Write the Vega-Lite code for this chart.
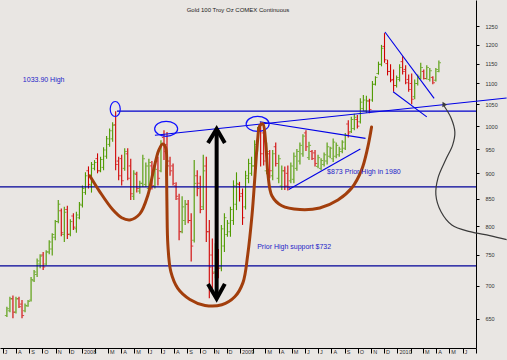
{
  "$schema": "https://vega.github.io/schema/vega-lite/v6.json",
  "width": 476,
  "height": 348,
  "autosize": {"type": "none"},
  "padding": {"left": 0, "top": 0, "right": 31, "bottom": 12},
  "background": "#E9E6E3",
  "config": {"view": {"stroke": null}, "font": "Liberation Sans"},
  "title": {"text": "Gold 100 Troy Oz COMEX Continuous", "fontSize": 6, "fontWeight": "normal", "font": "Liberation Sans", "color": "#222222", "anchor": "middle", "frame": "group", "offset": -13},
  "datasets": {
    "bars": [
      {"d":"2007-07-11","o":655,"h":668,"l":653,"c":665},
      {"d":"2007-07-18","o":662,"h":683,"l":660,"c":680},
      {"d":"2007-07-25","o":680,"h":685,"l":651,"c":660},
      {"d":"2007-08-01","o":660,"h":683,"l":658,"c":680},
      {"d":"2007-08-08","o":680,"h":683,"l":666,"c":668},
      {"d":"2007-08-15","o":672,"h":678,"l":651,"c":655},
      {"d":"2007-08-22","o":662,"h":673,"l":660,"c":670},
      {"d":"2007-08-29","o":669,"h":678,"l":668,"c":676},
      {"d":"2007-09-05","o":678,"h":714,"l":676,"c":710},
      {"d":"2007-09-12","o":708,"h":725,"l":706,"c":722},
      {"d":"2007-09-19","o":718,"h":744,"l":714,"c":740},
      {"d":"2007-09-26","o":735,"h":751,"l":728,"c":748},
      {"d":"2007-10-03","o":750,"h":755,"l":725,"c":730},
      {"d":"2007-10-10","o":735,"h":758,"l":733,"c":755},
      {"d":"2007-10-17","o":755,"h":775,"l":751,"c":772},
      {"d":"2007-10-24","o":760,"h":787,"l":749,"c":785},
      {"d":"2007-10-31","o":780,"h":811,"l":775,"c":808},
      {"d":"2007-11-07","o":808,"h":848,"l":805,"c":840},
      {"d":"2007-11-14","o":828,"h":832,"l":782,"c":788},
      {"d":"2007-11-21","o":785,"h":835,"l":772,"c":825},
      {"d":"2007-11-28","o":830,"h":837,"l":777,"c":785},
      {"d":"2007-12-05","o":786,"h":812,"l":782,"c":808},
      {"d":"2007-12-12","o":818,"h":823,"l":793,"c":798},
      {"d":"2007-12-19","o":795,"h":826,"l":788,"c":820},
      {"d":"2007-12-26","o":815,"h":844,"l":812,"c":840},
      {"d":"2008-01-02","o":838,"h":876,"l":834,"c":870},
      {"d":"2008-01-09","o":862,"h":902,"l":858,"c":895},
      {"d":"2008-01-16","o":905,"h":914,"l":870,"c":878},
      {"d":"2008-01-23","o":875,"h":923,"l":862,"c":918},
      {"d":"2008-01-30","o":910,"h":927,"l":906,"c":922},
      {"d":"2008-02-06","o":930,"h":941,"l":900,"c":905},
      {"d":"2008-02-13","o":905,"h":934,"l":902,"c":928},
      {"d":"2008-02-20","o":912,"h":954,"l":906,"c":948},
      {"d":"2008-02-27","o":935,"h":978,"l":930,"c":972},
      {"d":"2008-03-05","o":960,"h":995,"l":955,"c":990},
      {"d":"2008-03-12","o":972,"h":1009,"l":966,"c":1002},
      {"d":"2008-03-19","o":1003,"h":1034,"l":906,"c":918},
      {"d":"2008-03-26","o":925,"h":934,"l":886,"c":895},
      {"d":"2008-04-02","o":930,"h":938,"l":876,"c":885},
      {"d":"2008-04-09","o":910,"h":952,"l":905,"c":945},
      {"d":"2008-04-16","o":940,"h":952,"l":886,"c":890},
      {"d":"2008-04-23","o":915,"h":930,"l":848,"c":860},
      {"d":"2008-04-30","o":855,"h":906,"l":848,"c":900},
      {"d":"2008-05-07","o":898,"h":903,"l":862,"c":870},
      {"d":"2008-05-14","o":865,"h":885,"l":860,"c":880},
      {"d":"2008-05-21","o":880,"h":938,"l":873,"c":930},
      {"d":"2008-05-28","o":878,"h":922,"l":873,"c":915},
      {"d":"2008-06-04","o":870,"h":930,"l":862,"c":922},
      {"d":"2008-06-11","o":915,"h":925,"l":868,"c":875},
      {"d":"2008-06-18","o":875,"h":915,"l":870,"c":908},
      {"d":"2008-06-25","o":925,"h":934,"l":876,"c":890},
      {"d":"2008-07-02","o":905,"h":969,"l":902,"c":960},
      {"d":"2008-07-09","o":975,"h":991,"l":927,"c":945},
      {"d":"2008-07-16","o":960,"h":987,"l":902,"c":915},
      {"d":"2008-07-23","o":925,"h":934,"l":895,"c":905},
      {"d":"2008-07-30","o":915,"h":920,"l":876,"c":880},
      {"d":"2008-08-06","o":875,"h":882,"l":848,"c":855},
      {"d":"2008-08-13","o":850,"h":860,"l":775,"c":790},
      {"d":"2008-08-20","o":790,"h":855,"l":787,"c":835},
      {"d":"2008-08-27","o":810,"h":848,"l":802,"c":840},
      {"d":"2008-09-03","o":840,"h":848,"l":805,"c":810},
      {"d":"2008-09-10","o":810,"h":823,"l":739,"c":765},
      {"d":"2008-09-17","o":775,"h":927,"l":771,"c":880},
      {"d":"2008-09-24","o":895,"h":906,"l":855,"c":870},
      {"d":"2008-10-01","o":880,"h":895,"l":823,"c":830},
      {"d":"2008-10-08","o":835,"h":938,"l":829,"c":905},
      {"d":"2008-10-15","o":915,"h":934,"l":772,"c":790},
      {"d":"2008-10-22","o":790,"h":811,"l":681,"c":730},
      {"d":"2008-10-29","o":750,"h":778,"l":695,"c":720},
      {"d":"2008-11-05","o":722,"h":770,"l":712,"c":745},
      {"d":"2008-11-12","o":745,"h":760,"l":712,"c":728},
      {"d":"2008-11-19","o":730,"h":802,"l":723,"c":795},
      {"d":"2008-11-26","o":765,"h":823,"l":755,"c":815},
      {"d":"2008-12-03","o":785,"h":811,"l":781,"c":805},
      {"d":"2008-12-10","o":790,"h":835,"l":781,"c":830},
      {"d":"2008-12-17","o":810,"h":886,"l":802,"c":875},
      {"d":"2008-12-24","o":840,"h":902,"l":829,"c":880},
      {"d":"2008-12-31","o":878,"h":883,"l":845,"c":855},
      {"d":"2009-01-07","o":860,"h":870,"l":802,"c":815},
      {"d":"2009-01-14","o":835,"h":905,"l":830,"c":895},
      {"d":"2009-01-21","o":890,"h":930,"l":880,"c":920},
      {"d":"2009-01-28","o":900,"h":934,"l":895,"c":915},
      {"d":"2009-02-04","o":915,"h":969,"l":910,"c":960},
      {"d":"2009-02-11","o":955,"h":998,"l":945,"c":990},
      {"d":"2009-02-18","o":995,"h":1009,"l":914,"c":940},
      {"d":"2009-02-25","o":985,"h":998,"l":916,"c":925},
      {"d":"2009-03-04","o":905,"h":964,"l":898,"c":945},
      {"d":"2009-03-11","o":940,"h":948,"l":890,"c":905},
      {"d":"2009-03-18","o":895,"h":948,"l":886,"c":940},
      {"d":"2009-03-25","o":955,"h":964,"l":914,"c":920},
      {"d":"2009-04-01","o":890,"h":938,"l":880,"c":930},
      {"d":"2009-04-08","o":875,"h":916,"l":867,"c":905},
      {"d":"2009-04-15","o":905,"h":914,"l":867,"c":875},
      {"d":"2009-04-22","o":900,"h":916,"l":866,"c":872},
      {"d":"2009-04-29","o":885,"h":922,"l":880,"c":915},
      {"d":"2009-05-06","o":888,"h":943,"l":880,"c":935},
      {"d":"2009-05-13","o":910,"h":950,"l":905,"c":945},
      {"d":"2009-05-20","o":925,"h":964,"l":918,"c":958},
      {"d":"2009-05-27","o":940,"h":982,"l":934,"c":978},
      {"d":"2009-06-03","o":985,"h":991,"l":946,"c":955},
      {"d":"2009-06-10","o":932,"h":966,"l":927,"c":958},
      {"d":"2009-06-17","o":945,"h":948,"l":927,"c":930},
      {"d":"2009-06-24","o":942,"h":948,"l":914,"c":920},
      {"d":"2009-07-01","o":914,"h":938,"l":910,"c":932},
      {"d":"2009-07-08","o":910,"h":931,"l":906,"c":926},
      {"d":"2009-07-15","o":918,"h":943,"l":914,"c":938},
      {"d":"2009-07-22","o":925,"h":964,"l":918,"c":955},
      {"d":"2009-07-29","o":935,"h":955,"l":931,"c":952},
      {"d":"2009-08-05","o":930,"h":973,"l":923,"c":965},
      {"d":"2009-08-12","o":935,"h":964,"l":931,"c":958},
      {"d":"2009-08-19","o":938,"h":955,"l":934,"c":950},
      {"d":"2009-08-26","o":945,"h":969,"l":941,"c":965},
      {"d":"2009-09-02","o":952,"h":985,"l":948,"c":980},
      {"d":"2009-09-09","o":1005,"h":1013,"l":975,"c":985},
      {"d":"2009-09-16","o":988,"h":1021,"l":985,"c":1015},
      {"d":"2009-09-23","o":995,"h":1028,"l":991,"c":1020},
      {"d":"2009-09-30","o":1015,"h":1025,"l":995,"c":1000},
      {"d":"2009-10-07","o":1010,"h":1064,"l":1006,"c":1055},
      {"d":"2009-10-14","o":1040,"h":1072,"l":1034,"c":1060},
      {"d":"2009-10-21","o":1035,"h":1070,"l":1030,"c":1058},
      {"d":"2009-10-28","o":1058,"h":1063,"l":1029,"c":1038},
      {"d":"2009-11-04","o":1060,"h":1106,"l":1056,"c":1098},
      {"d":"2009-11-11","o":1098,"h":1118,"l":1095,"c":1115},
      {"d":"2009-11-18","o":1125,"h":1155,"l":1122,"c":1148},
      {"d":"2009-11-25","o":1148,"h":1199,"l":1143,"c":1190},
      {"d":"2009-12-02","o":1195,"h":1231,"l":1152,"c":1160},
      {"d":"2009-12-09","o":1150,"h":1160,"l":1120,"c":1130},
      {"d":"2009-12-16","o":1130,"h":1148,"l":1103,"c":1108},
      {"d":"2009-12-23","o":1110,"h":1135,"l":1080,"c":1095},
      {"d":"2009-12-30","o":1095,"h":1120,"l":1090,"c":1115},
      {"d":"2010-01-06","o":1110,"h":1148,"l":1105,"c":1140},
      {"d":"2010-01-13","o":1155,"h":1169,"l":1122,"c":1130},
      {"d":"2010-01-20","o":1135,"h":1146,"l":1098,"c":1102},
      {"d":"2010-01-27","o":1110,"h":1122,"l":1080,"c":1085},
      {"d":"2010-02-03","o":1100,"h":1125,"l":1050,"c":1062},
      {"d":"2010-02-10","o":1068,"h":1110,"l":1062,"c":1100},
      {"d":"2010-02-17","o":1100,"h":1122,"l":1095,"c":1118},
      {"d":"2010-02-24","o":1112,"h":1152,"l":1110,"c":1140},
      {"d":"2010-03-03","o":1130,"h":1135,"l":1110,"c":1112},
      {"d":"2010-03-10","o":1112,"h":1146,"l":1110,"c":1140},
      {"d":"2010-03-17","o":1110,"h":1139,"l":1105,"c":1132},
      {"d":"2010-03-24","o":1115,"h":1118,"l":1098,"c":1102},
      {"d":"2010-03-31","o":1108,"h":1139,"l":1105,"c":1135},
      {"d":"2010-04-07","o":1130,"h":1158,"l":1128,"c":1152}
    ],
    "trend": [
      {"id":"a","d":"2008-06-18","p":980},{"id":"a","d":"2010-09-11","p":1065},
      {"id":"b","d":"2009-02-16","p":1010},{"id":"b","d":"2009-10-19","p":973},
      {"id":"c","d":"2009-04-24","p":868},{"id":"c","d":"2009-10-07","p":950},
      {"id":"d","d":"2009-12-03","p":1234},{"id":"d","d":"2010-03-27","p":1064},
      {"id":"e","d":"2009-12-22","p":1080},{"id":"e","d":"2010-03-10","p":1021}
    ],
    "brown": [
      {"s":1,"d":"2008-01-19","p":895},{"s":2,"d":"2008-02-11","p":864},{"s":3,"d":"2008-03-12","p":830},
      {"s":4,"d":"2008-04-02","p":815},{"s":5,"d":"2008-04-21","p":811},{"s":6,"d":"2008-05-14","p":822},
      {"s":7,"d":"2008-06-02","p":858},{"s":8,"d":"2008-06-15","p":907},{"s":9,"d":"2008-06-27","p":948},
      {"s":10,"d":"2008-07-06","p":961},{"s":11,"d":"2008-07-13","p":953},{"s":12,"d":"2008-07-15","p":897},
      {"s":13,"d":"2008-07-16","p":830},{"s":14,"d":"2008-07-18","p":767},{"s":15,"d":"2008-07-25","p":722},
      {"s":16,"d":"2008-08-10","p":696},{"s":17,"d":"2008-09-07","p":679},{"s":18,"d":"2008-10-12","p":670},
      {"s":19,"d":"2008-11-20","p":671},{"s":20,"d":"2008-12-20","p":683},{"s":21,"d":"2009-01-08","p":705},
      {"s":22,"d":"2009-01-19","p":750},{"s":23,"d":"2009-01-29","p":820},{"s":24,"d":"2009-02-05","p":897},
      {"s":25,"d":"2009-02-11","p":970},{"s":26,"d":"2009-02-16","p":1001},{"s":27,"d":"2009-02-23","p":1005},
      {"s":28,"d":"2009-03-02","p":959},{"s":29,"d":"2009-03-07","p":897},{"s":30,"d":"2009-03-16","p":856},
      {"s":31,"d":"2009-04-08","p":837},{"s":32,"d":"2009-05-20","p":830},{"s":33,"d":"2009-07-05","p":833},
      {"s":34,"d":"2009-08-16","p":848},{"s":35,"d":"2009-09-17","p":871},{"s":36,"d":"2009-10-10","p":907},
      {"s":37,"d":"2009-10-24","p":953},{"s":38,"d":"2009-11-02","p":998}
    ],
    "chev": [
      {"id":"top","d":"2008-10-19","p":963},{"id":"top","d":"2008-11-08","p":994},{"id":"top","d":"2008-11-27","p":963},
      {"id":"bot","d":"2008-10-19","p":703},{"id":"bot","d":"2008-11-08","p":680},{"id":"bot","d":"2008-11-27","p":703}
    ],
    "gray": [
      {"s":1,"d":"2010-09-11","p":776},{"s":2,"d":"2010-08-03","p":783},{"s":3,"d":"2010-06-18","p":790},
      {"s":4,"d":"2010-05-07","p":802},{"s":5,"d":"2010-04-12","p":826},{"s":6,"d":"2010-03-31","p":858},
      {"s":7,"d":"2010-04-05","p":891},{"s":8,"d":"2010-04-23","p":928},{"s":9,"d":"2010-05-09","p":959},
      {"s":10,"d":"2010-05-14","p":987},{"s":11,"d":"2010-05-05","p":1019},{"s":12,"d":"2010-04-19","p":1046}
    ],
    "notes": [
      {"t":"1033.90 High","d":"2007-08-17","p":1109},
      {"t":"$873  Prior High in 1980","d":"2009-07-22","p":903},
      {"t":"Prior High support $732","d":"2009-02-10","p":764}
    ]
  },
  "layer": [
    {
      "data": {"name": "bars"},
      "mark": {"type": "rule", "strokeWidth": 1.1},
      "encoding": {
        "x": {"field": "d", "type": "temporal", "title": null,
          "scale": {"type": "time", "domain": ["2007-06-25", "2010-07-02"]},
          "axis": {"orient": "bottom", "tickCount": {"interval": "month", "step": 1},
            "labelExpr": "datum.value > datetime(2010,5,20) ? '' : month(datum.value) == 0 ? timeFormat(datum.value, '%Y') : month(datum.value) == 1 ? '' : substring(timeFormat(datum.value, '%b'), 0, 1)",
            "labelAlign": "left", "labelBaseline": "top", "tickSize": 5, "labelPadding": -4, "labelOffset": 1.5,
            "labelFontSize": 5.5, "labelFont": "Liberation Sans", "labelColor": "#333333", "domainColor": "#000000", "tickColor": "#000000",
            "grid": false, "title": null, "labelOverlap": false, "labelFlush": false, "labelBound": false}},
        "y": {"field": "l", "type": "quantitative", "title": null,
          "scale": {"type": "log", "domain": [609.2, 1325.5], "nice": false},
          "axis": {"orient": "right", "values": [650,700,750,800,850,900,950,1000,1050,1100,1150,1200,1250], "format": "d",
            "tickSize": 3, "tickColor": "#000000", "domainColor": "#000000", "labelPadding": 6, "labelFontSize": 5.5,
            "labelFont": "Liberation Sans", "labelColor": "#333333", "grid": false, "title": null, "labelFlush": false, "labelOverlap": false}},
        "y2": {"field": "h"},
        "color": {"condition": {"test": "datum.c >= datum.o", "value": "#4F9A00"}, "value": "#D00000"}
      }
    },
    {
      "data": {"name": "bars"},
      "mark": {"type": "tick", "orient": "horizontal", "size": 1.6, "thickness": 1, "xOffset": -1.3},
      "encoding": {
        "x": {"field": "d", "type": "temporal", "scale": {"type": "time", "domain": ["2007-06-25", "2010-07-02"]}},
        "y": {"field": "o", "type": "quantitative", "scale": {"type": "log", "domain": [609.2, 1325.5], "nice": false}},
        "color": {"condition": {"test": "datum.c >= datum.o", "value": "#4F9A00"}, "value": "#D00000"}
      }
    },
    {
      "data": {"name": "bars"},
      "mark": {"type": "tick", "orient": "horizontal", "size": 1.6, "thickness": 1, "xOffset": 1.3},
      "encoding": {
        "x": {"field": "d", "type": "temporal", "scale": {"type": "time", "domain": ["2007-06-25", "2010-07-02"]}},
        "y": {"field": "c", "type": "quantitative", "scale": {"type": "log", "domain": [609.2, 1325.5], "nice": false}},
        "color": {"condition": {"test": "datum.c >= datum.o", "value": "#4F9A00"}, "value": "#D00000"}
      }
    },
    {
      "data": {"values": [{"p": 873}, {"p": 732}]},
      "mark": {"type": "rule", "color": "#000099", "strokeWidth": 1.3},
      "encoding": {
        "y": {"field": "p", "type": "quantitative", "scale": {"type": "log", "domain": [609.2, 1325.5], "nice": false}}
      }
    },
    {
      "data": {"values": [{"p": 1033.9, "d1": "2008-03-22", "d2": "2010-07-02"}]},
      "mark": {"type": "rule", "color": "#0000CC", "strokeWidth": 1.2},
      "encoding": {
        "x": {"field": "d1", "type": "temporal", "scale": {"type": "time", "domain": ["2007-06-25", "2010-07-02"]}},
        "x2": {"field": "d2"},
        "y": {"field": "p", "type": "quantitative", "scale": {"type": "log", "domain": [609.2, 1325.5], "nice": false}}
      }
    },
    {
      "data": {"name": "trend"},
      "mark": {"type": "line", "color": "#0000E6", "strokeWidth": 1.1},
      "encoding": {
        "x": {"field": "d", "type": "temporal", "scale": {"type": "time", "domain": ["2007-06-25", "2010-07-02"]}},
        "y": {"field": "p", "type": "quantitative", "scale": {"type": "log", "domain": [609.2, 1325.5], "nice": false}},
        "detail": {"field": "id"}
      }
    },
    {
      "data": {"values": [{"d": "2008-07-14", "p": 994}, {"d": "2009-02-11", "p": 1005}]},
      "mark": {"type": "point", "shape": "M -1 0 A 1 0.65 0 1 1 1 0 A 1 0.65 0 1 1 -1 0 Z", "size": 529, "filled": false, "color": "#1010FF", "strokeWidth": 1.2, "opacity": 1},
      "encoding": {
        "x": {"field": "d", "type": "temporal", "scale": {"type": "time", "domain": ["2007-06-25", "2010-07-02"]}},
        "y": {"field": "p", "type": "quantitative", "scale": {"type": "log", "domain": [609.2, 1325.5], "nice": false}}
      }
    },
    {
      "data": {"values": [{"d": "2008-03-18", "p": 1039}]},
      "mark": {"type": "point", "shape": "M 0 -1 A 0.67 1 0 1 1 0 1 A 0.67 1 0 1 1 0 -1 Z", "size": 225, "filled": false, "color": "#1010FF", "strokeWidth": 1.2, "opacity": 1},
      "encoding": {
        "x": {"field": "d", "type": "temporal", "scale": {"type": "time", "domain": ["2007-06-25", "2010-07-02"]}},
        "y": {"field": "p", "type": "quantitative", "scale": {"type": "log", "domain": [609.2, 1325.5], "nice": false}}
      }
    },
    {
      "data": {"name": "brown"},
      "mark": {"type": "line", "color": "#A23E0C", "strokeWidth": 3, "interpolate": "catmull-rom", "strokeCap": "round"},
      "encoding": {
        "x": {"field": "d", "type": "temporal", "scale": {"type": "time", "domain": ["2007-06-25", "2010-07-02"]}},
        "y": {"field": "p", "type": "quantitative", "scale": {"type": "log", "domain": [609.2, 1325.5], "nice": false}},
        "order": {"field": "s", "type": "quantitative"}
      }
    },
    {
      "data": {"values": [{"d": "2008-11-08", "p1": 990, "p2": 683}]},
      "mark": {"type": "rule", "color": "#000000", "strokeWidth": 4},
      "encoding": {
        "x": {"field": "d", "type": "temporal", "scale": {"type": "time", "domain": ["2007-06-25", "2010-07-02"]}},
        "y": {"field": "p1", "type": "quantitative", "scale": {"type": "log", "domain": [609.2, 1325.5], "nice": false}},
        "y2": {"field": "p2"}
      }
    },
    {
      "data": {"name": "chev"},
      "mark": {"type": "line", "color": "#000000", "strokeWidth": 4, "strokeJoin": "miter"},
      "encoding": {
        "x": {"field": "d", "type": "temporal", "scale": {"type": "time", "domain": ["2007-06-25", "2010-07-02"]}},
        "y": {"field": "p", "type": "quantitative", "scale": {"type": "log", "domain": [609.2, 1325.5], "nice": false}},
        "detail": {"field": "id"}
      }
    },
    {
      "data": {"name": "gray"},
      "mark": {"type": "line", "color": "#3A3A3A", "strokeWidth": 1.2, "interpolate": "catmull-rom"},
      "encoding": {
        "x": {"field": "d", "type": "temporal", "scale": {"type": "time", "domain": ["2007-06-25", "2010-07-02"]}},
        "y": {"field": "p", "type": "quantitative", "scale": {"type": "log", "domain": [609.2, 1325.5], "nice": false}},
        "order": {"field": "s", "type": "quantitative"}
      }
    },
    {
      "data": {"values": [{"d": "2010-04-18", "p": 1051}]},
      "mark": {"type": "point", "shape": "triangle-up", "angle": 332, "size": 30, "filled": true, "color": "#3A3A3A", "opacity": 1},
      "encoding": {
        "x": {"field": "d", "type": "temporal", "scale": {"type": "time", "domain": ["2007-06-25", "2010-07-02"]}},
        "y": {"field": "p", "type": "quantitative", "scale": {"type": "log", "domain": [609.2, 1325.5], "nice": false}}
      }
    },
    {
      "data": {"name": "notes"},
      "mark": {"type": "text", "align": "left", "baseline": "middle", "fontSize": 7, "font": "Liberation Sans", "color": "#2323C8"},
      "encoding": {
        "x": {"field": "d", "type": "temporal", "scale": {"type": "time", "domain": ["2007-06-25", "2010-07-02"]}},
        "y": {"field": "p", "type": "quantitative", "scale": {"type": "log", "domain": [609.2, 1325.5], "nice": false}},
        "text": {"field": "t"}
      }
    }
  ]
}
